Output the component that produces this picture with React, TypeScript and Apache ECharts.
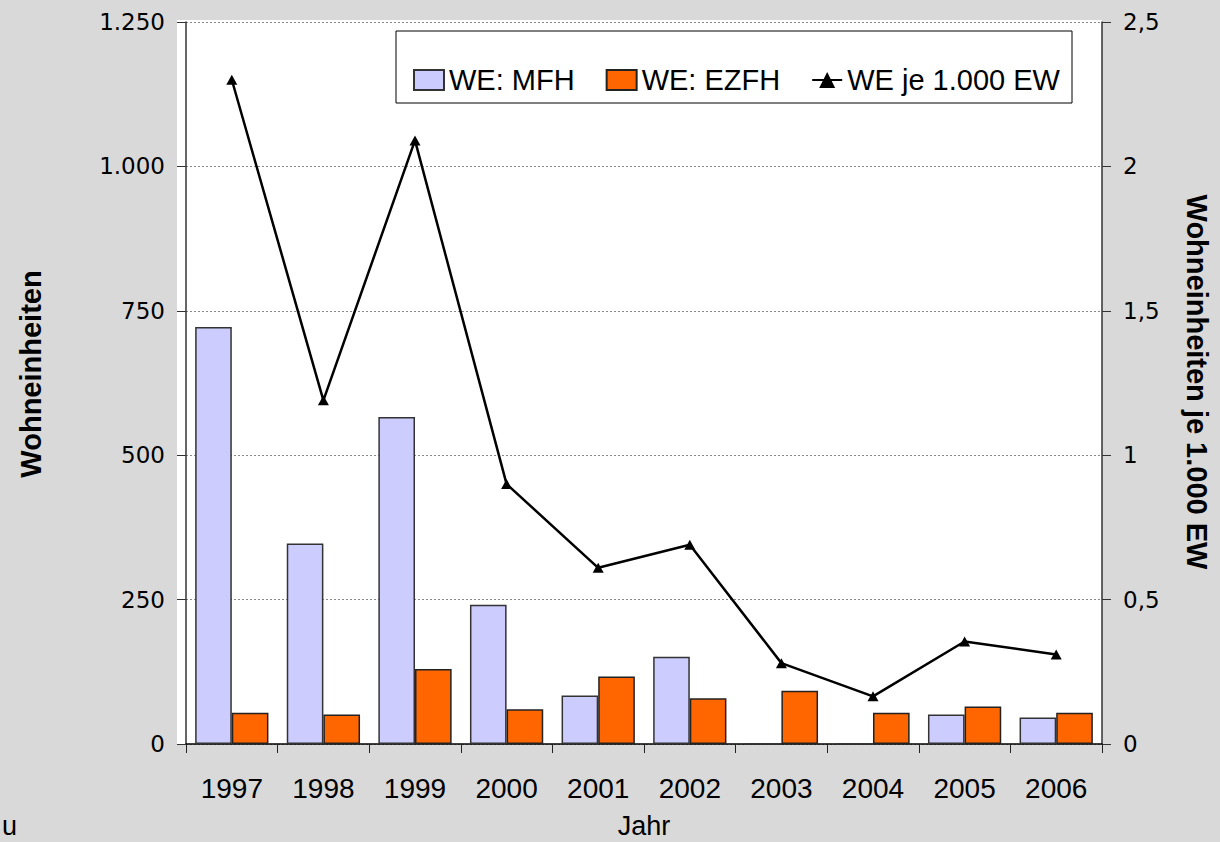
import React, { useEffect, useRef } from "react";
import * as echarts from "echarts";

const years = ["1997", "1998", "1999", "2000", "2001", "2002", "2003", "2004", "2005", "2006"];
const weMFH = [722, 347, 566, 241, 84, 151, 0, 0, 51, 46];
const weEZFH = [54, 51, 130, 60, 117, 79, 92, 54, 65, 54];
const weJe1000EW = [2.3, 1.19, 2.09, 0.9, 0.61, 0.69, 0.28, 0.165, 0.355, 0.31];

const leftTitle = "Wohneinheiten";
const rightTitle = "Wohneinheiten je 1.000 EW";
const xTitle = "Jahr";
const seriesNames = ["WE: MFH", "WE: EZFH", "WE je 1.000 EW"];

const fmtLeft = (v: number) =>
  v >= 1000 ? Math.floor(v / 1000) + "." + String(v % 1000).padStart(3, "0") : String(v);
const fmtRight = (v: number) => String(v).replace(".", ",");

const SANS = "'Liberation Sans', Arial, sans-serif";
const WIDE = "'DejaVu Sans', Verdana, sans-serif";

export default function App() {
  const ref = useRef<HTMLDivElement>(null);
  useEffect(() => {
    if (!ref.current) return;
    const chart = echarts.init(ref.current, undefined, { renderer: "svg" });
    chart.setOption({
      animation: false,
      backgroundColor: "#d9d9d9",
      grid: { left: 186, right: 118, top: 22, bottom: 98, containLabel: false },
      graphic: [
        {
          type: "rect",
          z: -1,
          shape: { x: 177, y: 20, width: 925, height: 724 },
          style: { fill: "#ffffff" },
          silent: true,
        },
        {
          type: "rect",
          z: 3,
          shape: { x: 396, y: 31, width: 676, height: 72 },
          style: { fill: "#ffffff", stroke: "#000000", lineWidth: 1 },
          silent: true,
        },
        {
          type: "text",
          x: 31,
          y: 374,
          rotation: Math.PI / 2,
          style: {
            text: leftTitle,
            font: "bold 29px " + SANS,
            fill: "#000",
            textAlign: "center",
            textVerticalAlign: "middle",
          },
        },
        {
          type: "text",
          x: 1197,
          y: 382,
          rotation: -Math.PI / 2,
          style: {
            text: rightTitle,
            font: "bold 29px " + SANS,
            fill: "#000",
            textAlign: "center",
            textVerticalAlign: "middle",
          },
        },
        {
          type: "text",
          x: 644,
          y: 826,
          style: {
            text: xTitle,
            font: "27px " + SANS,
            fill: "#000",
            textAlign: "center",
            textVerticalAlign: "middle",
          },
        },
        {
          type: "text",
          x: 2,
          y: 826,
          style: {
            text: "u",
            font: "27px " + SANS,
            fill: "#000",
            textAlign: "left",
            textVerticalAlign: "middle",
          },
        },
      ],
      legend: {
        left: 413,
        top: 65.5,
        padding: 0,
        itemWidth: 30,
        itemHeight: 20,
        itemGap: 31,
        data: [
          { name: seriesNames[0], icon: "rect" },
          { name: seriesNames[1], icon: "rect" },
          { name: seriesNames[2] },
        ],
        textStyle: { fontSize: 29, fontFamily: SANS, color: "#000", lineHeight: 29 },
      },
      xAxis: {
        type: "category",
        data: years,
        boundaryGap: true,
        axisLine: { lineStyle: { color: "#000", width: 1.5 } },
        axisTick: { show: true, length: 9, lineStyle: { color: "#222" } },
        axisLabel: { fontSize: 28, fontFamily: SANS, color: "#000", margin: 30, lineHeight: 28 },
      },
      yAxis: [
        {
          type: "value",
          min: 0,
          max: 1250,
          interval: 250,
          position: "left",
          axisLine: { show: true, lineStyle: { color: "#333", width: 1.5 } },
          axisTick: { show: true, length: 9, lineStyle: { color: "#333" } },
          axisLabel: { fontSize: 23, fontFamily: WIDE, color: "#000", margin: 21, formatter: fmtLeft },
          splitLine: { show: true, lineStyle: { color: "#888", type: [2, 2], width: 1 } },
        },
        {
          type: "value",
          min: 0,
          max: 2.5,
          interval: 0.5,
          position: "right",
          axisLine: { show: true, lineStyle: { color: "#333", width: 1.5 } },
          axisTick: { show: true, length: 9, lineStyle: { color: "#333" } },
          axisLabel: { fontSize: 23, fontFamily: WIDE, color: "#000", margin: 21, formatter: fmtRight },
          splitLine: { show: false },
        },
      ],
      series: [
        {
          name: seriesNames[0],
          type: "bar",
          yAxisIndex: 0,
          data: weMFH,
          barCategoryGap: "20%",
          barGap: "0%",
          itemStyle: { color: "#ccccff", borderColor: "#333333", borderWidth: 1.5 },
        },
        {
          name: seriesNames[1],
          type: "bar",
          yAxisIndex: 0,
          data: weEZFH,
          barCategoryGap: "20%",
          barGap: "0%",
          itemStyle: { color: "#ff6600", borderColor: "#222222", borderWidth: 1.5 },
        },
        {
          name: seriesNames[2],
          type: "line",
          yAxisIndex: 1,
          data: weJe1000EW,
          symbol: "triangle",
          symbolSize: [11, 10],
          lineStyle: { color: "#000", width: 2.5 },
          itemStyle: { color: "#000" },
          z: 5,
        },
      ],
    });
    return () => chart.dispose();
  }, []);
  return (
    <div
      ref={ref}
      style={{ position: "fixed", left: 0, top: 0, width: 1220, height: 842 }}
    />
  );
}
